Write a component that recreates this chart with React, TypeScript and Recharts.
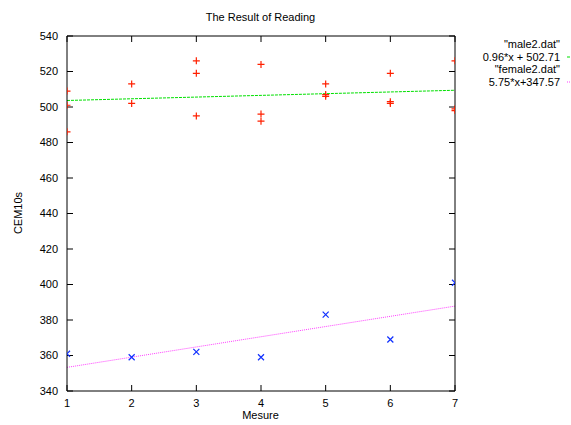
import React from 'react';
import { ComposedChart, Scatter, Line, XAxis, YAxis } from 'recharts';

// male2.dat readings (red +)
const maleX = [1, 1, 1, 2, 2, 3, 3, 3, 4, 4, 4, 5, 5, 5, 6, 6, 6, 7, 7, 7];
const maleY = [509, 501, 486, 513, 502, 526, 519, 495, 524, 496, 492, 513, 507, 506, 519, 503, 502, 526, 499, 498];

// female2.dat readings (blue x)
const femaleX = [1, 2, 3, 4, 5, 6, 7];
const femaleY = [361, 359, 362, 359, 383, 369, 401];

// fitted lines, end points
const fitX = [1, 7];
const maleFitY = [503.67, 509.43];
const femaleFitY = [353.32, 387.82];

const xTicks = [1, 2, 3, 4, 5, 6, 7];
const yTicks = [340, 360, 380, 400, 420, 440, 460, 480, 500, 520, 540];

const maleLabel = '0.96*x + 502.71';
const femaleLabel = '5.75*x+347.57';

const FONT = '"Liberation Sans", Arial, Helvetica, sans-serif';

const malePts = maleX.map((x, i) => ({ x, y: maleY[i] }));
const femalePts = femaleX.map((x, i) => ({ x, y: femaleY[i] }));
const maleFit = fitX.map((x, i) => ({ x, y: maleFitY[i] }));
const femaleFit = fitX.map((x, i) => ({ x, y: femaleFitY[i] }));

const Plus = (props: any) => {
  const { cx, cy } = props;
  return (
    <path d={`M${cx - 3.5},${cy}H${cx + 3.5}M${cx},${cy - 3.5}V${cy + 3.5}`} stroke="#ff2000" strokeWidth={1.2} fill="none" />
  );
};

const Cross = (props: any) => {
  const { cx, cy } = props;
  return (
    <path d={`M${cx - 3},${cy - 3}L${cx + 3},${cy + 3}M${cx - 3},${cy + 3}L${cx + 3},${cy - 3}`} stroke="#1030ff" strokeWidth={1.2} fill="none" />
  );
};

const noLabel = () => <g />;

const LegendBox = () => (
  <div style={{ position: 'absolute', right: 0, top: 38, fontFamily: FONT, fontSize: 11, color: '#000', lineHeight: '12.5px' }}>
    <div style={{ textAlign: 'right', paddingRight: 11 }}>"male2.dat"</div>
    <div style={{ display: 'flex', justifyContent: 'flex-end', alignItems: 'center' }}>
      <span>{maleLabel}</span>
      <svg width={11} height={4}><line x1={7} y1={2} x2={11} y2={2} stroke="#00e000" strokeDasharray="3 1" /></svg>
    </div>
    <div style={{ textAlign: 'right', paddingRight: 11 }}>"female2.dat"</div>
    <div style={{ display: 'flex', justifyContent: 'flex-end', alignItems: 'center' }}>
      <span>{femaleLabel}</span>
      <svg width={11} height={4}><line x1={7} y1={2} x2={11} y2={2} stroke="#ff40ff" strokeDasharray="1 1" /></svg>
    </div>
  </div>
);

export default function App() {
  const axisText = { fill: '#000', fontSize: 11, fontFamily: FONT };
  return (
    <div style={{ position: 'absolute', left: 0, top: 0, width: 571, height: 425, background: '#fff' }}>
      <ComposedChart width={571} height={425} margin={{ top: 30, right: 110, bottom: 4, left: 7 }}>
        <XAxis xAxisId="b" type="number" dataKey="x" domain={[1, 7]} ticks={xTicks} allowDataOverflow
          orientation="bottom" height={30} tickSize={-6} tickMargin={14}
          axisLine={{ stroke: '#000' }} tickLine={{ stroke: '#000' }} tick={axisText} />
        <XAxis xAxisId="t" type="number" dataKey="x" domain={[1, 7]} ticks={xTicks} allowDataOverflow
          orientation="top" height={6} tickSize={-6}
          axisLine={{ stroke: '#000' }} tickLine={{ stroke: '#000' }} tick={noLabel} />
        <YAxis yAxisId="l" type="number" domain={[340, 540]} ticks={yTicks} allowDataOverflow
          orientation="left" width={60} tickSize={-6} tickMargin={15}
          axisLine={{ stroke: '#000' }} tickLine={{ stroke: '#000' }} tick={axisText} />
        <YAxis yAxisId="r" type="number" domain={[340, 540]} ticks={yTicks} allowDataOverflow
          orientation="right" width={6} tickSize={-6}
          axisLine={{ stroke: '#000' }} tickLine={{ stroke: '#000' }} tick={noLabel} />
        <Line xAxisId="b" yAxisId="l" data={maleFit} dataKey="y" stroke="#00e000" strokeWidth={1}
          strokeDasharray="3 1" dot={false} isAnimationActive={false} legendType="none" />
        <Line xAxisId="b" yAxisId="l" data={femaleFit} dataKey="y" stroke="#ff40ff" strokeWidth={1}
          strokeDasharray="1 1" dot={false} isAnimationActive={false} legendType="none" />
        <Scatter xAxisId="b" yAxisId="l" data={malePts} dataKey="y" shape={Plus} isAnimationActive={false} legendType="none" />
        <Scatter xAxisId="b" yAxisId="l" data={femalePts} dataKey="y" shape={Cross} isAnimationActive={false} legendType="none" />
      </ComposedChart>
      <div style={{ position: 'absolute', left: 0, width: 521, top: 11, textAlign: 'center', fontFamily: FONT, fontSize: 11, color: '#000' }}>
        The Result of Reading
      </div>
      <div style={{ position: 'absolute', left: 0, width: 521, top: 409, lineHeight: '12px', textAlign: 'center', fontFamily: FONT, fontSize: 11, color: '#000' }}>
        Mesure
      </div>
      <div style={{ position: 'absolute', left: 18, top: 213, transform: 'translate(-50%, -50%) rotate(-90deg)', fontFamily: FONT, fontSize: 11, color: '#000', whiteSpace: 'nowrap' }}>
        CEM10s
      </div>
      <LegendBox />
    </div>
  );
}
